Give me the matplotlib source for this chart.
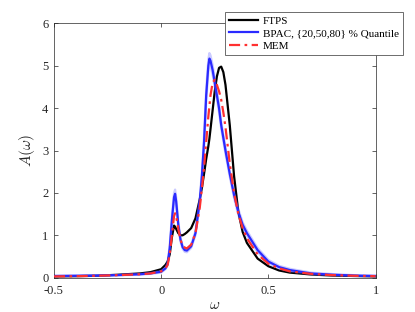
import numpy as np
import matplotlib
matplotlib.use("Agg")
import matplotlib.pyplot as plt

# ---------------------------------------------------------------------------
# Data
# ---------------------------------------------------------------------------
omega = [-0.5, -0.4, -0.3, -0.2, -0.1, -0.05, 0.0, 0.02, 0.03, 0.04, 0.05,
         0.06, 0.065, 0.07, 0.08, 0.09, 0.1, 0.11, 0.12, 0.14, 0.16, 0.18,
         0.19, 0.2, 0.21, 0.22, 0.225, 0.23, 0.24, 0.25, 0.26, 0.27, 0.28,
         0.29, 0.3, 0.32, 0.34, 0.36, 0.38, 0.4, 0.45, 0.5, 0.55, 0.6, 0.7,
         0.8, 0.9, 1.0]

ftps = [0.03, 0.035, 0.045, 0.07, 0.1, 0.13, 0.2, 0.3, 0.38, 0.55, 0.95,
        1.23, 1.2, 1.15, 1.05, 1.0, 1.0, 1.03, 1.07, 1.17, 1.4, 1.85,
        2.12, 2.45, 2.8, 3.1, 3.28, 3.5, 3.95, 4.4, 4.75, 4.95, 4.98,
        4.85, 4.55, 3.6, 2.4, 1.55, 1.08, 0.82, 0.45, 0.27, 0.17, 0.12, 0.075,
        0.05, 0.04, 0.03]

bpac_50 = [0.04, 0.045, 0.05, 0.06, 0.08, 0.1, 0.14, 0.22, 0.32, 0.7, 1.35,
           1.9, 1.98, 1.8, 1.25, 0.9, 0.72, 0.65, 0.64, 0.74, 1.05, 1.8,
           2.4, 3.2, 4.3, 5.0, 5.17, 5.12, 4.9, 4.6, 4.3, 4.0, 3.6,
           3.3, 3.0, 2.45, 1.95, 1.55, 1.25, 1.05, 0.65, 0.38, 0.25, 0.18, 0.1,
           0.07, 0.05, 0.04]

bpac_20 = [0.035, 0.04, 0.045, 0.055, 0.07, 0.09, 0.12, 0.2, 0.29, 0.62, 1.25,
           1.8, 1.88, 1.7, 1.18, 0.85, 0.68, 0.61, 0.6, 0.7, 1.0, 1.72,
           2.3, 3.05, 4.15, 4.85, 5.05, 5.0, 4.78, 4.5, 4.2, 3.9, 3.52,
           3.22, 2.92, 2.38, 1.88, 1.48, 1.19, 0.99, 0.6, 0.34, 0.22, 0.15, 0.08,
           0.055, 0.04, 0.03]

bpac_80 = [0.045, 0.05, 0.055, 0.065, 0.09, 0.11, 0.16, 0.24, 0.35, 0.78, 1.45,
           2.0, 2.08, 1.9, 1.32, 0.95, 0.76, 0.69, 0.68, 0.78, 1.1, 1.88,
           2.5, 3.35, 4.45, 5.15, 5.3, 5.25, 5.02, 4.7, 4.4, 4.1, 3.68,
           3.38, 3.08, 2.52, 2.02, 1.62, 1.31, 1.11, 0.7, 0.42, 0.28, 0.21, 0.12,
           0.085, 0.06, 0.05]

mem = [0.03, 0.035, 0.045, 0.06, 0.08, 0.1, 0.15, 0.22, 0.3, 0.55, 1.0,
       1.45, 1.52, 1.45, 1.15, 0.9, 0.76, 0.71, 0.69, 0.78, 1.05, 1.65,
       2.1, 2.6, 3.2, 3.8, 4.05, 4.3, 4.6, 4.67, 4.55, 4.4, 4.2,
       3.9, 3.55, 2.7, 2.0, 1.5, 1.17, 0.93, 0.55, 0.33, 0.22, 0.15, 0.09,
       0.06, 0.045, 0.035]

# ---------------------------------------------------------------------------
# Plot
# ---------------------------------------------------------------------------
plt.rcParams["font.family"] = ["Liberation Serif", "DejaVu Serif"]
plt.rcParams["mathtext.fontset"] = "cm"

AX_COLOR = "#262626"

fig = plt.figure(figsize=(4.15, 3.12), dpi=100, facecolor="white")
ax = fig.add_axes([0.13, 0.11, 0.775, 0.815])

ax.plot(omega, ftps, color="black", lw=1.6, label="FTPS", zorder=3)
ax.plot(omega, bpac_20, color="#6f6fff", lw=1.6, alpha=0.35, zorder=3)
ax.plot(omega, bpac_80, color="#6f6fff", lw=1.6, alpha=0.35, zorder=3)
ax.plot(omega, bpac_50, color="#2a2aff", lw=1.6,
        label="BPAC, {20,50,80} % Quantile", zorder=4)
ax.plot(omega, mem, color="#ff3030", lw=1.6, ls=(0, (5, 2, 1.2, 2)),
        label="MEM", zorder=5)

ax.set_xlim(-0.5, 1)
ax.set_ylim(0, 6)
ax.set_xticks([-0.5, 0, 0.5, 1])
ax.set_xticklabels(["-0.5", "0", "0.5", "1"])
ax.set_yticks(range(7))

ax.tick_params(direction="in", length=3, width=0.5, colors=AX_COLOR,
               labelsize=9, top=True, right=True)
ax.tick_params(axis="x", pad=5)
ax.tick_params(axis="y", pad=4)
for spine in ax.spines.values():
    spine.set_color(AX_COLOR)
    spine.set_linewidth(0.5)

ax.set_xlabel(r"$\omega$", fontsize=11, color=AX_COLOR, labelpad=2)
ax.set_ylabel(r"$A(\omega)$", fontsize=11, color=AX_COLOR, labelpad=4)

leg = ax.legend(loc="upper right", bbox_to_anchor=(403 / 415, 1 - 12 / 312),
                bbox_transform=fig.transFigure, borderaxespad=0,
                fontsize=8, fancybox=False, framealpha=1, edgecolor="#555555",
                handlelength=2.6, handletextpad=0.5, borderpad=0.35,
                labelspacing=0.25)
leg.get_frame().set_linewidth(0.6)
leg.set_zorder(10)

fig.savefig("out.png", dpi=100, facecolor="white")
